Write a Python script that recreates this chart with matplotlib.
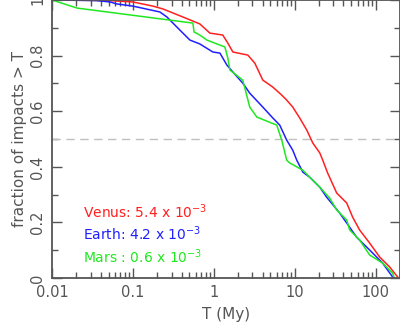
import numpy as np
import matplotlib
matplotlib.use('Agg')
from matplotlib import pyplot as plt
from matplotlib.ticker import LogLocator, MultipleLocator, FixedLocator

# 데이터
venus_T = [0.01, 0.05, 0.1, 0.177, 0.234, 0.414, 0.671, 0.893, 1.29, 1.49, 1.72, 2.63, 3.21,
           4.03, 5.35, 6.91, 7.96, 9.45, 11.5, 14.1, 16.7, 20.4, 22.2, 25.5, 33.0, 43.9,
           52.0, 63.4, 84.3, 112, 149, 187, 195]
venus_f = [1.0, 0.998, 0.993, 0.978, 0.968, 0.939, 0.914, 0.881, 0.874, 0.845, 0.813, 0.802, 0.773,
           0.712, 0.687, 0.658, 0.640, 0.615, 0.576, 0.532, 0.486, 0.450, 0.424, 0.378, 0.306, 0.270,
           0.219, 0.173, 0.126, 0.076, 0.040, 0.004, 0.0]

earth_T = [0.01, 0.035, 0.052, 0.063, 0.1, 0.215, 0.263, 0.380, 0.506, 0.671, 0.973, 1.19, 1.45,
           1.72, 2.28, 2.78, 4.03, 5.35, 6.53, 7.96, 9.45, 10.6, 12.6, 15.3, 20.4, 24.8, 35.9,
           43.9, 58.2, 84.3, 122, 162, 165]
earth_f = [1.0, 0.998, 0.993, 0.986, 0.978, 0.957, 0.939, 0.892, 0.856, 0.842, 0.813, 0.809, 0.766,
           0.741, 0.701, 0.665, 0.615, 0.576, 0.550, 0.496, 0.460, 0.424, 0.381, 0.363, 0.327, 0.291, 0.234,
           0.198, 0.147, 0.101, 0.054, 0.004, 0.0]

mars_T = [0.01, 0.0204, 0.551, 0.57, 0.671, 0.82, 1.37, 1.49, 1.58, 2.28, 2.78, 3.40, 6.0, 6.91,
          7.96, 8.67, 12.6, 15.3, 20.4, 27.0, 33.0, 43.9, 47.8, 63.4, 84.3, 122, 162, 170]
mars_f = [1.0, 0.971, 0.917, 0.885, 0.874, 0.856, 0.831, 0.791, 0.748, 0.712, 0.615, 0.579, 0.550, 0.496,
          0.424, 0.414, 0.388, 0.363, 0.327, 0.288, 0.245, 0.209, 0.173, 0.137, 0.083, 0.054, 0.018, 0.0]

labels = ['Venus: 5.4 x 10$^{-3}$', 'Earth: 4.2 x 10$^{-3}$', 'Mars : 0.6 x 10$^{-3}$']
colors = ['#ff2020', '#2020ff', '#20e820']

gray = '#555555'
plt.rcParams['font.family'] = 'DejaVu Sans'

fig = plt.figure(figsize=(4.0, 3.23), dpi=100)
ax = fig.add_axes([0.13, 0.139, 0.87, 0.861])

ax.axhline(0.5, color='#c0c0c0', lw=1.0, dashes=(6, 4))

ax.plot(venus_T, venus_f, color=colors[0], lw=1.1)
ax.plot(earth_T, earth_f, color=colors[1], lw=1.1)
ax.plot(mars_T, mars_f, color=colors[2], lw=1.1)

ax.set_xscale('log')
ax.set_xlim(0.01, 200)
ax.set_ylim(0, 1)

ax.xaxis.set_major_locator(FixedLocator([0.01, 0.1, 1, 10, 100]))
ax.set_xticklabels(['0.01', '0.1', '1', '10', '100'])
ax.xaxis.set_minor_locator(LogLocator(base=10, subs=np.arange(2, 10), numticks=20))
ax.yaxis.set_major_locator(MultipleLocator(0.2))
ax.yaxis.set_minor_locator(MultipleLocator(0.1))
ax.set_yticks([0, 0.2, 0.4, 0.6, 0.8, 1.0])
ax.set_yticklabels(['0', '0.2', '0.4', '0.6', '0.8', '1'], rotation=90, va='center')

ax.tick_params(which='both', direction='in', top=True, right=True, color=gray,
               labelcolor=gray, labelsize=10.5, width=1.0)
ax.tick_params(which='major', length=7, pad=5)
ax.tick_params(which='minor', length=4)
for s in ax.spines.values():
    s.set_color(gray)
    s.set_linewidth(1.3)

ax.set_xlabel('T (My)', color=gray, fontsize=11, labelpad=5)
ax.set_ylabel('fraction of impacts > T', color=gray, fontsize=11, labelpad=2)

for i, (lab, c) in enumerate(zip(labels, colors)):
    ax.text(0.024, 0.238 - i * 0.08, lab, color=c, fontsize=10, va='center', ha='left')

fig.savefig('out.png', dpi=100)
